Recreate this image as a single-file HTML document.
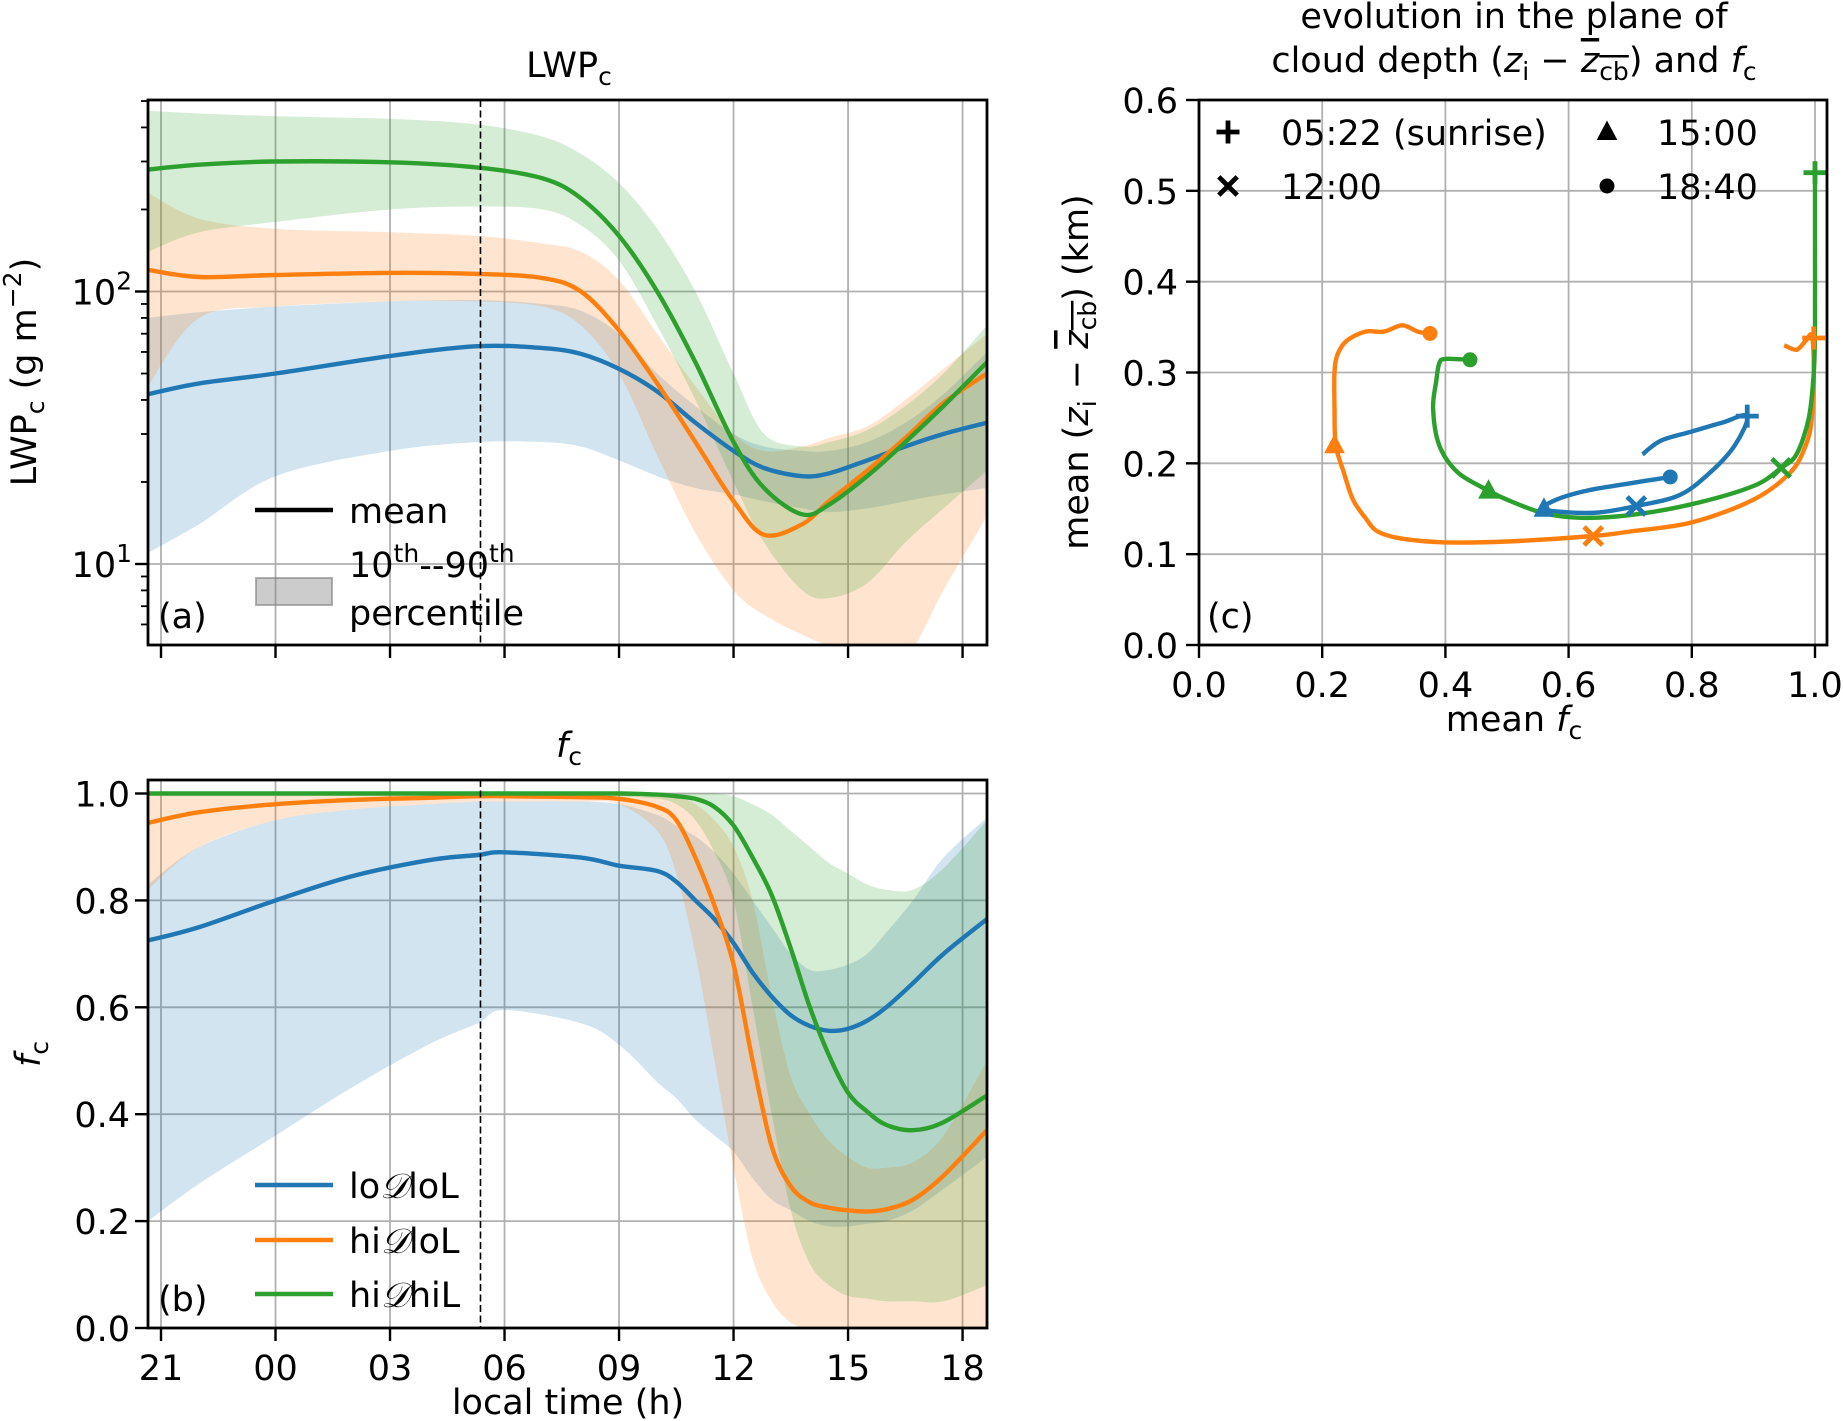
<!DOCTYPE html>
<html><head><meta charset="utf-8"><style>
body{margin:0;background:#fff}
svg{display:block;font-family:"DejaVu Sans","Liberation Sans",sans-serif}
</style></head><body>
<svg id="fig" width="1843" height="1421" viewBox="0 0 1843 1421">
<defs>
<clipPath id="clipA"><rect x="148" y="100" width="839" height="545"/></clipPath>
<clipPath id="clipB"><rect x="148" y="780" width="839" height="548"/></clipPath>
<clipPath id="clipC"><rect x="1199" y="100" width="628" height="545"/></clipPath>
</defs>
<g id="gA"></g>
<g id="gB"></g>
<g id="gC"></g>
</svg>
<script>
// ---------- data ----------
const timeA = [-3.34,-2,0,3,5.3,7,8,9,10,11,12,12.8,13.8,14.5,15.5,16.5,17.5,18.64];
const lwpBlue =   [42,46,50,58,63,62,59,52,43,33,26,22.5,21,21.5,24,27,30,33];
const lwpOrange = [120,113,115,117,116,112,100,72,46,28,17,12.8,14,17,22,29,39,50];
const lwpGreen =  [280,292,300,298,285,260,220,160,100,55,28,19,15.2,16.5,21,28,38,55];
const lwpBlueLo = [11,14,21,26,28,28,27,24,21,19,18,17,16,15.5,16,17,18,19];
const lwpBlueHi = [80,84,88,92,93,90,85,70,50,38,30,27,26,26,28,33,42,60];
const lwpOrangeLo=[45,80,88,92,92,88,75,50,25,13,8,6.5,5.5,5,4.5,4.5,8,15];
const lwpOrangeHi=[230,185,170,165,160,150,140,110,70,45,30,26,27,29,32,40,52,70];
const lwpGreenLo =[140,165,180,200,205,200,175,130,75,40,20,12,8,7.5,8.5,12,16,22];
const lwpGreenHi =[460,450,440,430,410,370,320,250,170,100,50,30,27,28,31,38,50,75];

const timeB = [-3.34,-2,0,2,4,5.3,6,8,9,10,10.5,11,11.5,12,12.5,13,13.5,14,14.5,15,15.5,16,16.7,17.5,18.64];
const fcBlue =   [0.725,0.75,0.80,0.845,0.875,0.885,0.89,0.88,0.865,0.855,0.835,0.80,0.765,0.72,0.665,0.62,0.585,0.565,0.556,0.56,0.575,0.60,0.645,0.70,0.765];
const fcOrange = [0.945,0.965,0.98,0.988,0.992,0.995,0.995,0.993,0.99,0.975,0.95,0.88,0.79,0.68,0.50,0.34,0.265,0.235,0.225,0.22,0.218,0.222,0.24,0.285,0.37];
const fcGreen =  [1,1,1,1,1,1,1,1,1,0.998,0.995,0.99,0.975,0.94,0.88,0.81,0.71,0.60,0.51,0.44,0.405,0.38,0.37,0.385,0.435];
const fcBlueLo = [0.2,0.27,0.36,0.45,0.53,0.57,0.595,0.57,0.53,0.46,0.43,0.39,0.36,0.33,0.28,0.24,0.22,0.2,0.19,0.19,0.195,0.2,0.22,0.26,0.32];
const fcBlueHi = [0.83,0.9,0.95,0.97,0.98,0.985,0.985,0.985,0.98,0.96,0.94,0.92,0.89,0.85,0.8,0.75,0.7,0.67,0.67,0.68,0.7,0.74,0.8,0.88,0.955];
const fcOrangeLo=[0.82,0.9,0.95,0.97,0.98,0.985,0.985,0.985,0.98,0.93,0.85,0.7,0.5,0.3,0.13,0.05,0.01,0,0,0,0,0,0,0,0];
const fcOrangeHi=[1,1,1,1,1,1,1,1,1,1,0.995,0.98,0.95,0.9,0.8,0.62,0.47,0.4,0.35,0.32,0.3,0.3,0.31,0.36,0.5];
const fcGreenLo= [1,1,1,1,1,1,1,1,0.995,0.99,0.98,0.95,0.89,0.8,0.6,0.4,0.22,0.12,0.08,0.06,0.055,0.05,0.05,0.05,0.08];
const fcGreenHi= [1,1,1,1,1,1,1,1,1,1,1,1,1,0.995,0.98,0.96,0.93,0.9,0.87,0.85,0.83,0.82,0.82,0.86,0.95];

const phaseOrangeX=[0.95,0.97,0.985,0.995,0.998,0.995,0.985,0.96,0.9,0.8,0.7,0.64,0.5,0.4,0.33,0.29,0.27,0.25,0.235,0.222,0.22,0.22,0.225,0.24,0.27,0.3,0.33,0.355,0.375];
const phaseOrangeY=[0.33,0.325,0.335,0.34,0.30,0.25,0.22,0.19,0.16,0.135,0.125,0.12,0.114,0.113,0.117,0.125,0.14,0.16,0.19,0.22,0.26,0.30,0.32,0.335,0.345,0.345,0.352,0.345,0.343];
const phaseGreenX=[1.0,1.0,1.0,0.998,0.99,0.97,0.945,0.9,0.8,0.7,0.62,0.56,0.5,0.47,0.42,0.39,0.38,0.385,0.39,0.40,0.44];
const phaseGreenY=[0.53,0.45,0.35,0.30,0.25,0.21,0.195,0.175,0.155,0.143,0.14,0.145,0.16,0.17,0.19,0.22,0.26,0.29,0.31,0.315,0.314];
const phaseBlueX=[0.72,0.75,0.8,0.85,0.89,0.87,0.83,0.78,0.71,0.65,0.6,0.56,0.58,0.63,0.7,0.765];
const phaseBlueY=[0.21,0.225,0.235,0.245,0.252,0.22,0.19,0.165,0.153,0.146,0.146,0.15,0.16,0.17,0.178,0.185];
const markerOrange=[[0.998,0.338],[0.64,0.12],[0.22,0.22],[0.375,0.343]];
const markerGreen=[[1.0,0.52],[0.945,0.195],[0.47,0.17],[0.44,0.314]];
const markerBlue=[[0.89,0.252],[0.71,0.153],[0.56,0.15],[0.765,0.185]];

const timeTicks=[-3,0,3,6,9,12,15,18];
const timeTickLabels=["21","00","03","06","09","12","15","18"];
const fcTicks=[0,0.2,0.4,0.6,0.8,1.0];
const cTicksX=[0,0.2,0.4,0.6,0.8,1.0];
const cTicksY=[0,0.1,0.2,0.3,0.4,0.5,0.6];

// ---------- helpers ----------
const NS="http://www.w3.org/2000/svg";
const C={b:"#1f77b4",o:"#ff7f0e",g:"#2ca02c"};
const FS=35, FSS=25, LW=4.4;
function mk(parent,tag,attrs,txt){const e=document.createElementNS(NS,tag);for(const k in attrs)e.setAttribute(k,attrs[k]);if(txt!==undefined)e.textContent=txt;parent.appendChild(e);return e;}
function smooth(pts){ if(pts.length<2)return ""; let d="M"+pts[0][0].toFixed(1)+","+pts[0][1].toFixed(1);
 for(let i=0;i<pts.length-1;i++){const p0=pts[Math.max(0,i-1)],p1=pts[i],p2=pts[i+1],p3=pts[Math.min(pts.length-1,i+2)];
  const t=1/6;const c1=[p1[0]+(p2[0]-p0[0])*t,p1[1]+(p2[1]-p0[1])*t],c2=[p2[0]-(p3[0]-p1[0])*t,p2[1]-(p3[1]-p1[1])*t];
  d+="C"+c1[0].toFixed(1)+","+c1[1].toFixed(1)+" "+c2[0].toFixed(1)+","+c2[1].toFixed(1)+" "+p2[0].toFixed(1)+","+p2[1].toFixed(1);}
 return d;}
function smoothCont(pts){return smooth(pts).replace(/^M/,"L");}

const xT=t=>161+(t+3)*38.17;
const yLog=v=>564-(Math.log10(v)-1)*272.5;
const yFc=v=>1328-v*534.5;
const xC=v=>1199+v*616;
const yC=v=>645-v*(545/0.6);

// ---------- Panel A ----------
const gA=document.getElementById('gA');
timeTicks.forEach(t=>{const l=mk(gA,'line',{x1:xT(t),x2:xT(t),y1:100,y2:645,stroke:'#b0b0b0','stroke-width':1.8});});
[10,100].forEach(v=>{const l=mk(gA,'line',{x1:148,x2:987,y1:yLog(v),y2:yLog(v),stroke:'#b0b0b0','stroke-width':1.8});});
const bandsA=[[lwpBlueLo,lwpBlueHi,C.b,'band-lodlol'],[lwpOrangeLo,lwpOrangeHi,C.o,'band-hidlol'],[lwpGreenLo,lwpGreenHi,C.g,'band-hidhil']];
const cgA=mk(gA,'g',{'clip-path':'url(#clipA)'});
bandsA.forEach(([lo,hi,col,nm])=>{const up=timeA.map((t,i)=>[xT(t),yLog(hi[i])]);const dn=timeA.map((t,i)=>[xT(t),yLog(lo[i])]).reverse();
 const p=mk(cgA,'path',{d:smooth(up)+smoothCont(dn)+"Z",fill:col,'fill-opacity':0.2,stroke:'none'});});
[[lwpBlue,C.b,'line-lodlol'],[lwpOrange,C.o,'line-hidlol'],[lwpGreen,C.g,'line-hidhil']].forEach(([v,col,nm])=>{
 const p=mk(cgA,'path',{d:smooth(timeA.map((t,i)=>[xT(t),yLog(v[i])])),fill:'none',stroke:col,'stroke-width':LW});});
{const l=mk(gA,'line',{x1:xT(5.37),x2:xT(5.37),y1:100,y2:645,stroke:'#000','stroke-width':1.6,'stroke-dasharray':'7,3.5'});}
{const r=mk(gA,'rect',{x:148,y:100,width:839,height:545,fill:'none',stroke:'#000','stroke-width':2.8});}
timeTicks.forEach(t=>{const l=mk(gA,'line',{x1:xT(t),x2:xT(t),y1:645,y2:658,stroke:'#000','stroke-width':2.4});});
for(let dec=1;dec<=100;dec*=10){for(let m=1;m<10;m++){const v=m*dec;if(v<5.05||v>505)continue;const major=(m===1);
 const l=mk(gA,'line',{x1:148,x2:major?135:141,y1:yLog(v),y2:yLog(v),stroke:'#000','stroke-width':major?2.4:1.8});}}
[[10,'1'],[100,'2']].forEach(([v,e])=>{const t=mk(gA,'text',{x:132,y:yLog(v)+13,'font-size':FS,'text-anchor':'end'});
 t.innerHTML='10<tspan dy="-15" font-size="'+FSS+'">'+e+'</tspan>';});
{const t=mk(gA,'text',{x:569,y:77,'font-size':FS,'text-anchor':'middle'});t.innerHTML='LWP<tspan dy="8" font-size="'+FSS+'">c</tspan>';}
{const t=mk(gA,'text',{transform:'translate(36,372) rotate(-90)','font-size':FS,'text-anchor':'middle'});t.innerHTML='LWP<tspan dy="8" font-size="'+FSS+'">c</tspan><tspan dy="-8"> (g m</tspan><tspan dy="-15" font-size="'+FSS+'">−2</tspan><tspan dy="15">)</tspan>';}
{const t=mk(gA,'text',{x:158,y:628,'font-size':FS},'(a)');}
{const l=mk(gA,'line',{x1:255,x2:333,y1:510,y2:510,stroke:'#000','stroke-width':4.4});
 const t=mk(gA,'text',{x:349,y:523,'font-size':FS},'mean');
 const r=mk(gA,'rect',{x:256,y:578,width:76,height:27,fill:'#7f7f7f','fill-opacity':0.4,stroke:'#7f7f7f','stroke-opacity':0.6,'stroke-width':2});
 const t2=mk(gA,'text',{x:349,y:577,'font-size':FS});t2.innerHTML='10<tspan dy="-15" font-size="'+FSS+'">th</tspan><tspan dy="15">--90</tspan><tspan dy="-15" font-size="'+FSS+'">th</tspan>';
 const t3=mk(gA,'text',{x:349,y:625,'font-size':FS},'percentile');}

// ---------- Panel B ----------
const gB=document.getElementById('gB');
timeTicks.forEach(t=>{const l=mk(gB,'line',{x1:xT(t),x2:xT(t),y1:780,y2:1328,stroke:'#b0b0b0','stroke-width':1.8});});
fcTicks.forEach(v=>{const l=mk(gB,'line',{x1:148,x2:987,y1:yFc(v),y2:yFc(v),stroke:'#b0b0b0','stroke-width':1.8});});
const cgB=mk(gB,'g',{'clip-path':'url(#clipB)'});
[[fcBlueLo,fcBlueHi,C.b,'band-lodlol'],[fcOrangeLo,fcOrangeHi,C.o,'band-hidlol'],[fcGreenLo,fcGreenHi,C.g,'band-hidhil']].forEach(([lo,hi,col,nm])=>{
 const up=timeB.map((t,i)=>[xT(t),yFc(hi[i])]);const dn=timeB.map((t,i)=>[xT(t),yFc(lo[i])]).reverse();
 const p=mk(cgB,'path',{d:smooth(up)+smoothCont(dn)+"Z",fill:col,'fill-opacity':0.2,stroke:'none'});});
[[fcBlue,C.b,'line-lodlol'],[fcOrange,C.o,'line-hidlol'],[fcGreen,C.g,'line-hidhil']].forEach(([v,col,nm])=>{
 const p=mk(cgB,'path',{d:smooth(timeB.map((t,i)=>[xT(t),yFc(v[i])])),fill:'none',stroke:col,'stroke-width':LW});});
{const l=mk(gB,'line',{x1:xT(5.37),x2:xT(5.37),y1:780,y2:1328,stroke:'#000','stroke-width':1.6,'stroke-dasharray':'7,3.5'});}
{const r=mk(gB,'rect',{x:148,y:780,width:839,height:548,fill:'none',stroke:'#000','stroke-width':2.8});}
timeTicks.forEach((t,i)=>{const l=mk(gB,'line',{x1:xT(t),x2:xT(t),y1:1328,y2:1341,stroke:'#000','stroke-width':2.4});
 const tx=mk(gB,'text',{x:xT(t),y:1380,'font-size':FS,'text-anchor':'middle'},timeTickLabels[i]);});
fcTicks.forEach(v=>{const l=mk(gB,'line',{x1:148,x2:135,y1:yFc(v),y2:yFc(v),stroke:'#000','stroke-width':2.4});
 const tx=mk(gB,'text',{x:130,y:yFc(v)+13,'font-size':FS,'text-anchor':'end'},v.toFixed(1));});
{const t=mk(gB,'text',{x:569,y:757,'font-size':FS,'text-anchor':'middle'});t.innerHTML='<tspan font-style="italic">f</tspan><tspan dy="8" font-size="'+FSS+'">c</tspan>';}
{const t=mk(gB,'text',{transform:'translate(40,1054) rotate(-90)','font-size':FS,'text-anchor':'middle'});t.innerHTML='<tspan font-style="italic">f</tspan><tspan dy="8" font-size="'+FSS+'">c</tspan>';}
{const t=mk(gB,'text',{x:568,y:1414,'font-size':FS,'text-anchor':'middle'},'local time (h)');}
{const t=mk(gB,'text',{x:158,y:1311,'font-size':FS},'(b)');}
[['lo','lo',C.b,1185,'legend-lodlol'],['hi','lo',C.o,1240,'legend-hidlol'],['hi','hi',C.g,1294,'legend-hidhil']].forEach(([a,b,col,y,nm])=>{
 const l=mk(gB,'line',{x1:255,x2:333,y1:y,y2:y,stroke:col,'stroke-width':4.4});
 const t=mk(gB,'text',{x:349,y:y+13,'font-size':FS});t.innerHTML=a+'<tspan font-family="Liberation Serif,serif" font-style="italic">𝒟</tspan>'+b+'L';});

// ---------- Panel C ----------
const gC=document.getElementById('gC');
cTicksX.forEach(v=>{const l=mk(gC,'line',{x1:xC(v),x2:xC(v),y1:100,y2:645,stroke:'#b0b0b0','stroke-width':1.8});});
cTicksY.forEach(v=>{const l=mk(gC,'line',{x1:1199,x2:1827,y1:yC(v),y2:yC(v),stroke:'#b0b0b0','stroke-width':1.8});});
const cgC=mk(gC,'g',{'clip-path':'url(#clipC)'});
[[phaseBlueX,phaseBlueY,C.b,'trajectory-lodlol'],[phaseOrangeX,phaseOrangeY,C.o,'trajectory-hidlol'],[phaseGreenX,phaseGreenY,C.g,'trajectory-hidhil']].forEach(([xs,ys,col,nm])=>{
 const p=mk(cgC,'path',{d:smooth(xs.map((x,i)=>[xC(x),yC(ys[i])])),fill:'none',stroke:col,'stroke-width':LW});});
function marker(g,kind,x,y,col,s){
 if(kind===0){return mk(g,'path',{d:`M${x-s},${y}H${x+s}M${x},${y-s}V${y+s}`,stroke:col,'stroke-width':4.8,fill:'none'});}
 if(kind===1){const k=s*0.8;return mk(g,'path',{d:`M${x-k},${y-k}L${x+k},${y+k}M${x-k},${y+k}L${x+k},${y-k}`,stroke:col,'stroke-width':4.8,fill:'none'});}
 if(kind===2){return mk(g,'path',{d:`M${x},${y-s}L${x+s*0.9},${y+s*0.7}L${x-s*0.9},${y+s*0.7}Z`,fill:col});}
 return mk(g,'circle',{cx:x,cy:y,r:s*0.65,fill:col});}
const mnames=['marker-sunrise','marker-1200','marker-1500','marker-1840'];
[[markerBlue,C.b],[markerOrange,C.o],[markerGreen,C.g]].forEach(([ms,col])=>{ms.forEach((m,k)=>{const e=marker(cgC,k,xC(m[0]),yC(m[1]),col,11.5);});});
{const r=mk(gC,'rect',{x:1199,y:100,width:628,height:545,fill:'none',stroke:'#000','stroke-width':2.8});}
cTicksX.forEach(v=>{const l=mk(gC,'line',{x1:xC(v),x2:xC(v),y1:645,y2:658,stroke:'#000','stroke-width':2.4});
 const t=mk(gC,'text',{x:xC(v),y:697,'font-size':FS,'text-anchor':'middle'},v.toFixed(1));});
cTicksY.forEach(v=>{const l=mk(gC,'line',{x1:1199,x2:1186,y1:yC(v),y2:yC(v),stroke:'#000','stroke-width':2.4});
 const t=mk(gC,'text',{x:1178,y:yC(v)+13,'font-size':FS,'text-anchor':'end'},v.toFixed(1));});
{const t=mk(gC,'text',{x:1514,y:731,'font-size':FS,'text-anchor':'middle'});t.innerHTML='mean <tspan font-style="italic">f</tspan><tspan dy="8" font-size="'+FSS+'">c</tspan>';}
{const t=mk(gC,'text',{transform:'translate(1088,372) rotate(-90)','font-size':FS,'text-anchor':'middle'});t.innerHTML='mean (<tspan font-style="italic">z</tspan><tspan dy="8" font-size="'+FSS+'">i</tspan><tspan dy="-8"> − </tspan><tspan font-style="italic" text-decoration="overline">z<tspan dy="8" font-size="'+FSS+'" font-style="normal">cb</tspan></tspan><tspan dy="-8">) (km)</tspan>';}
{const t=mk(gC,'text',{x:1514,y:28,'font-size':FS,'text-anchor':'middle'},'evolution in the plane of');
 const t2=mk(gC,'text',{x:1514,y:72,'font-size':FS,'text-anchor':'middle'});t2.innerHTML='cloud depth (<tspan font-style="italic">z</tspan><tspan dy="8" font-size="'+FSS+'">i</tspan><tspan dy="-8"> − </tspan><tspan font-style="italic" text-decoration="overline">z<tspan dy="8" font-size="'+FSS+'" font-style="normal">cb</tspan></tspan><tspan dy="-8">) and </tspan><tspan font-style="italic">f</tspan><tspan dy="8" font-size="'+FSS+'">c</tspan>';}
{const t=mk(gC,'text',{x:1207,y:628,'font-size':FS},'(c)');}
[[0,1228,132,1281,'05:22 (sunrise)','legend-sunrise'],[1,1228,186,1281,'12:00','legend-1200'],[2,1607,132,1657,'15:00','legend-1500'],[3,1607,186,1657,'18:40','legend-1840']].forEach(([k,mx,my,tx,lab,nm])=>{
 const m=marker(gC,k,mx,my,'#000',11.5);
 const t=mk(gC,'text',{x:tx,y:my+13,'font-size':FS},lab);});
</script>
</body></html>
